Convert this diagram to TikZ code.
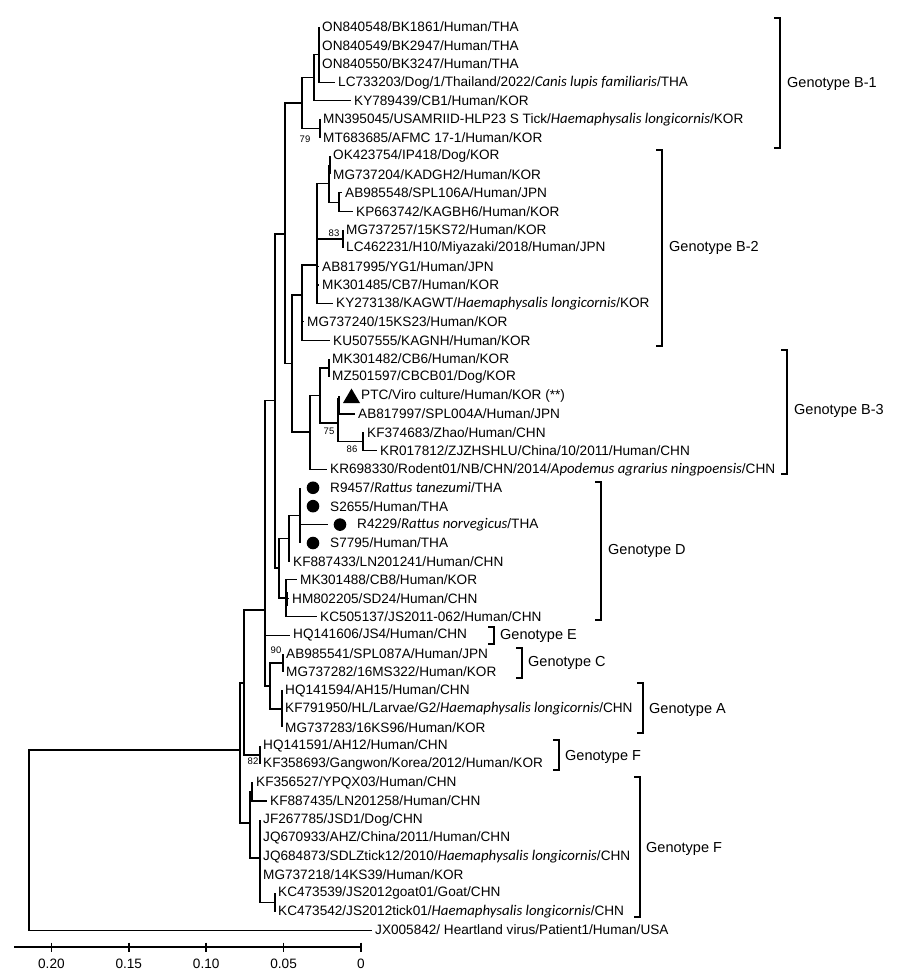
\documentclass[tikz,border=0pt]{standalone}
\usepackage{fontspec}
\setmainfont{Liberation Sans}
\newfontfamily\itf{Carlito}
\newcommand\spp[1]{{\itf\itshape\fontsize{14.8}{15}\selectfont #1}}
\newcommand\lfs{\fontsize{13.6}{14}\selectfont}
\newcommand\gfs{\fontsize{14.5}{15}\selectfont}
\newcommand\bfs{\fontsize{9.5}{10}\selectfont}
\newcommand\leafnode[4]{\coordinate (t#1) at (#2,#3); \node[leaf] (l#1) at (t#1) {#4};}
\begin{document}
\begin{tikzpicture}[x=1pt,y=-1pt,
 br/.style={line width=1.15pt},
 thickbar/.style={line width=2.4pt},
 leaf/.style={anchor=west,inner xsep=3pt,inner ysep=0pt,font=\lfs},
 bsl/.style={font=\bfs,inner sep=0pt},
 gtl/.style={anchor=west,font=\gfs,inner sep=0pt},
 brk/.style={line width=1.15pt},
 tipdot/.style={circle,fill=black,minimum size=12.6pt,inner sep=0pt},
]
\useasboundingbox (0,0) rectangle (900,979);

% ---------- leaves ----------
\leafnode{1}{319}{27}{ON840548/BK1861/Human/THA}
\leafnode{2}{319}{45.43}{ON840549/BK2947/Human/THA}
\leafnode{3}{319}{63.86}{ON840550/BK3247/Human/THA}
\leafnode{4}{335}{82.29}{LC733203/Dog/1/Thailand/2022/\spp{Canis lupis familiaris}/THA}
\leafnode{5}{351}{100.72}{KY789439/CB1/Human/KOR}
\leafnode{6}{320}{119.15}{MN395045/USAMRIID-HLP23 S Tick/\spp{Haemaphysalis longicornis}/KOR}
\leafnode{7}{320}{137.58}{MT683685/AFMC 17-1/Human/KOR}
\leafnode{8}{330}{156.01}{OK423754/IP418/Dog/KOR}
\leafnode{9}{330}{174.44}{MG737204/KADGH2/Human/KOR}
\leafnode{10}{342}{192.87}{AB985548/SPL106A/Human/JPN}
\leafnode{11}{353}{211.30}{KP663742/KAGBH6/Human/KOR}
\leafnode{12}{343}{229.73}{MG737257/15KS72/Human/KOR}
\leafnode{13}{343}{248.16}{LC462231/H10/Miyazaki/2018/Human/JPN}
\leafnode{14}{319}{266.59}{AB817995/YG1/Human/JPN}
\leafnode{15}{319}{285.02}{MK301485/CB7/Human/KOR}
\leafnode{16}{333}{303.45}{KY273138/KAGWT/\spp{Haemaphysalis longicornis}/KOR}
\leafnode{17}{304}{321.88}{MG737240/15KS23/Human/KOR}
\leafnode{18}{330}{340.31}{KU507555/KAGNH/Human/KOR}
\leafnode{19}{329}{358.74}{MK301482/CB6/Human/KOR}
\leafnode{20}{329}{377.17}{MZ501597/CBCB01/Dog/KOR}
\coordinate (t21) at (339,395.6);
\node[leaf] (l21) at (358,395.6) {PTC/Viro culture/Human/KOR (**)};
\leafnode{22}{355}{414.03}{AB817997/SPL004A/Human/JPN}
\leafnode{23}{364}{432.46}{KF374683/Zhao/Human/CHN}
\leafnode{24}{377}{450.89}{KR017812/ZJZHSHLU/China/10/2011/Human/CHN}
\leafnode{25}{327}{469.32}{KR698330/Rodent01/NB/CHN/2014/\spp{Apodemus agrarius ningpoensis}/CHN}
\coordinate (t26) at (300,487.75);
\coordinate (t27) at (300,506.18);
\coordinate (t28) at (328,524.61);
\coordinate (t29) at (300,543.04);
\node[tipdot] (c26) at (313,487.75) {};
\node[tipdot] (c27) at (313,506.18) {};
\node[tipdot] (c28) at (340,524.61) {};
\node[tipdot] (c29) at (313,543.04) {};
\node[leaf] (l26) at (327,487.75) {R9457/\spp{Rattus tanezumi}/THA};
\node[leaf] (l27) at (327,506.18) {S2655/Human/THA};
\node[leaf] (l28) at (354,524.61) {R4229/\spp{Rattus norvegicus}/THA};
\node[leaf] (l29) at (327,543.04) {S7795/Human/THA};
\leafnode{30}{290}{561.47}{KF887433/LN201241/Human/CHN}
\leafnode{31}{297}{579.90}{MK301488/CB8/Human/KOR}
\leafnode{32}{289}{598.33}{HM802205/SD24/Human/CHN}
\leafnode{33}{317}{616.76}{KC505137/JS2011-062/Human/CHN}
\leafnode{34}{290}{635.19}{HQ141606/JS4/Human/CHN}
\leafnode{35}{283}{653.62}{AB985541/SPL087A/Human/JPN}
\leafnode{36}{283}{672.05}{MG737282/16MS322/Human/KOR}
\leafnode{37}{282}{690.48}{HQ141594/AH15/Human/CHN}
\leafnode{38}{282}{708.91}{KF791950/HL/Larvae/G2/\spp{Haemaphysalis longicornis}/CHN}
\leafnode{39}{282}{727.34}{MG737283/16KS96/Human/KOR}
\leafnode{40}{260}{745.77}{HQ141591/AH12/Human/CHN}
\leafnode{41}{260}{764.20}{KF358693/Gangwon/Korea/2012/Human/KOR}
\leafnode{42}{253}{782.63}{KF356527/YPQX03/Human/CHN}
\leafnode{43}{267}{801.06}{KF887435/LN201258/Human/CHN}
\leafnode{44}{260}{819.49}{JF267785/JSD1/Dog/CHN}
\leafnode{45}{260}{837.92}{JQ670933/AHZ/China/2011/Human/CHN}
\leafnode{46}{260}{856.35}{JQ684873/SDLZtick12/2010/\spp{Haemaphysalis longicornis}/CHN}
\leafnode{47}{260}{874.78}{MG737218/14KS39/Human/KOR}
\leafnode{48}{275}{893.21}{KC473539/JS2012goat01/Goat/CHN}
\leafnode{49}{275}{911.64}{KC473542/JS2012tick01/\spp{Haemaphysalis longicornis}/CHN}
\leafnode{50}{372}{930.07}{JX005842/ Heartland virus/Patient1/Human/USA}

% PTC triangle
\fill (343,403) -- (351.5,388.5) -- (360,403) -- cycle;

% ---------- internal nodes ----------
\coordinate (n1a) at (319,54.6);
\coordinate (n1b) at (314,77.7);
\coordinate (n1c) at (320,128.4);
\coordinate (n1d) at (302,103);
\coordinate (nPB) at (285,234);
\coordinate (n2a) at (330,165.2);
\coordinate (n2b) at (339,202.1);
\coordinate (n2c) at (329,183.6);
\coordinate (n83) at (343,239);
\coordinate (n2d) at (317,265);
\coordinate (n2e) at (302,295);
\coordinate (n3a) at (329,368);
\coordinate (n3b) at (339,404.8);
\coordinate (n86) at (363,441.7);
\coordinate (n75) at (338,423);
\coordinate (n3c) at (320,395.5);
\coordinate (n3d) at (310,432);
\coordinate (n23) at (292,363.5);
\coordinate (nth) at (300,515.5);
\coordinate (nD1) at (289,538.5);
\coordinate (nD2) at (286,598);
\coordinate (nD) at (279,568);
\coordinate (nBD) at (275,400.8);
\coordinate (n90) at (283,663);
\coordinate (nA) at (282,709);
\coordinate (nCA) at (270,686);
\coordinate (nX) at (265,610);
\coordinate (n82) at (260,755);
\coordinate (nUp) at (244,683);
\coordinate (nKF) at (252,792);
\coordinate (nKC) at (275,902.5);
\coordinate (nF2) at (260,858);
\coordinate (nFb) at (250,823);
\coordinate (nIn) at (240,750);
\coordinate (root) at (29,840);

% ---------- branches ----------
\foreach \p/\cs in {n1a/{t1,t2,t3,t4}, n1b/{n1a,t5}, n1c/{t6,t7}, n1d/{n1b,n1c},
  nPB/{n1d,n23}, n2a/{t8,t9}, n2b/{t10,t11}, n2c/{n2a,n2b}, n83/{t12,t13},
  n2d/{n2c,n83,t14,t15,t16}, n2e/{n2d,t17,t18}, n3a/{t19,t20}, n3b/{t21,t22},
  n86/{t23,t24}, n75/{n3b,n86}, n3c/{n3a,n75}, n3d/{n3c,t25}, n23/{n2e,n3d},
  nth/{t26,t27,t28,t29}, nD1/{nth,t30}, nD2/{t31,t32,t33}, nD/{nD1,nD2},
  nBD/{nPB,nD}, n90/{t35,t36}, nA/{t37,t38,t39}, nCA/{n90,nA},
  nX/{nBD,t34,nCA}, n82/{t40,t41}, nUp/{nX,n82}, nKF/{t42,t43},
  nKC/{t48,t49}, nF2/{t44,t45,t46,t47,nKC}, nFb/{nKF,nF2}, nIn/{nUp,nFb},
  root/{nIn,t50}}
  {\foreach \c in \cs {\draw[br] (\p) |- (\c);}}

% short overlapping (near-zero) branches drawn as heavier bars
\draw[thickbar] (330,158) -- (330,172);
\draw[thickbar] (317,240) -- (317,286);
\draw[thickbar] (338.5,398) -- (338.5,412);
\draw[thickbar] (286.5,592) -- (286.5,606);
\draw[thickbar] (252,786) -- (252,800);

% ---------- bootstrap values ----------
\node[bsl] (b79) at (305,139) {79};
\node[bsl] (b83) at (334,233) {83};
\node[bsl] (b75) at (329,431) {75};
\node[bsl] (b86) at (352,449) {86};
\node[bsl] (b90) at (276,650) {90};
\node[bsl] (b82) at (253,761) {82};

% ---------- genotype brackets ----------
\draw[brk] (774,18) -- (780,18) -- (780,148) -- (774,148);
\node[gtl] (gB1) at (787,84) {Genotype B-1};
\draw[brk] (656,150) -- (662,150) -- (662,346) -- (656,346);
\node[gtl] (gB2) at (669,248) {Genotype B-2};
\draw[brk] (781,350) -- (787,350) -- (787,474) -- (781,474);
\node[gtl] (gB3) at (794,411) {Genotype B-3};
\draw[brk] (595,482) -- (601,482) -- (601,620) -- (595,620);
\node[gtl] (gD) at (608,551) {Genotype D};
\draw[brk] (488,627) -- (494,627) -- (494,644) -- (488,644);
\node[gtl] (gE) at (500,635.5) {Genotype E};
\draw[brk] (516,648) -- (522,648) -- (522,678) -- (516,678);
\node[gtl] (gC) at (528,663) {Genotype C};
\draw[brk] (637,683) -- (643,683) -- (643,733) -- (637,733);
\node[gtl] (gA) at (649,710) {Genotype A};
\draw[brk] (553,740) -- (559,740) -- (559,770) -- (553,770);
\node[gtl] (gF1) at (565,757) {Genotype F};
\draw[brk] (634,777) -- (640,777) -- (640,917) -- (634,917);
\node[gtl] (gF2) at (646,849) {Genotype F};

% ---------- scale axis ----------
\coordinate (ax0) at (14,947);
\coordinate (ax1) at (361,947);
\draw[line width=1.6pt] (ax0) -- (ax1);
\foreach \x/\l in {51.4/0.20,128.8/0.15,206.2/0.10,283.6/0.05,361/0}
  {\draw[line width=1.6pt] (\x,942.5) -- (\x,951.5);
   \node[font=\lfs,inner sep=0pt] at (\x,964) {\l};}
\end{tikzpicture}
\end{document}
